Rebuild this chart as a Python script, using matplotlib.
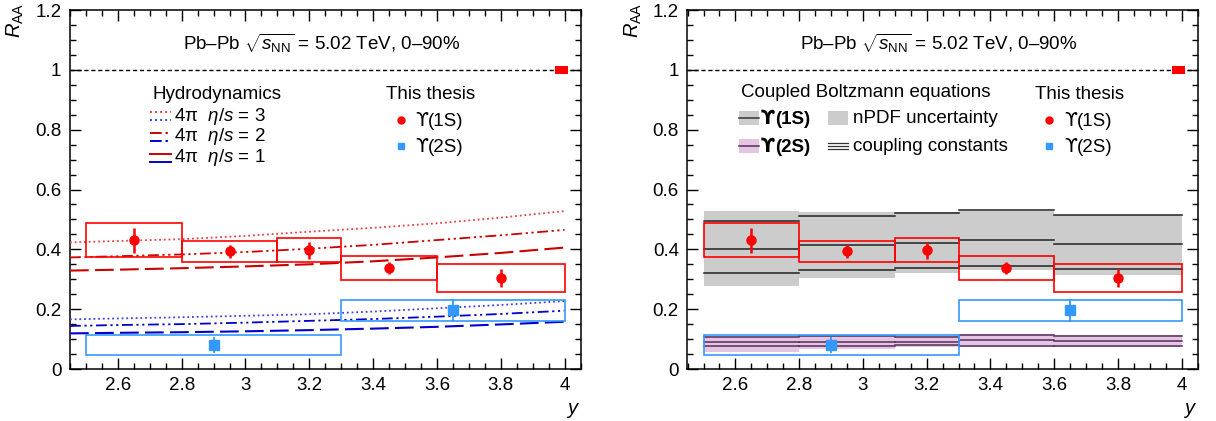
import numpy as np
import matplotlib.pyplot as plt
from matplotlib.patches import Rectangle
from matplotlib.ticker import MultipleLocator, FuncFormatter

plt.rcParams['font.family'] = ['Liberation Sans', 'DejaVu Sans']
plt.rcParams['mathtext.fontset'] = 'custom'
plt.rcParams['mathtext.rm'] = 'Liberation Sans'
plt.rcParams['mathtext.it'] = 'Liberation Sans:italic'
plt.rcParams['mathtext.bf'] = 'Liberation Sans:bold'

# measured R_AA (this thesis)
edges_1s = [2.5, 2.8, 3.1, 3.3, 3.6, 4.0]
y_1s = [2.65, 2.95, 3.2, 3.45, 3.8]
raa_1s = [0.431, 0.394, 0.397, 0.337, 0.304]
stat_1s = [0.042, 0.022, 0.029, 0.020, 0.030]
syst_1s = [0.056, 0.035, 0.040, 0.041, 0.048]

edges_2s = [2.5, 3.3, 4.0]
y_2s = [2.9, 3.65]
raa_2s = [0.080, 0.196]
stat_2s = [0.028, 0.039]
syst_2s = [0.033, 0.036]

# hydrodynamics model curves
hydro_y = [2.45, 2.6, 2.8, 3.0, 3.2, 3.4, 3.6, 3.8, 4.0]
hydro_1s_eta3 = [0.423, 0.428, 0.434, 0.445, 0.459, 0.472, 0.487, 0.506, 0.528]
hydro_1s_eta2 = [0.373, 0.377, 0.383, 0.391, 0.402, 0.415, 0.431, 0.447, 0.465]
hydro_1s_eta1 = [0.329, 0.332, 0.337, 0.343, 0.350, 0.360, 0.373, 0.388, 0.406]
hydro_2s_eta3 = [0.166, 0.169, 0.173, 0.178, 0.183, 0.192, 0.203, 0.214, 0.227]
hydro_2s_eta2 = [0.144, 0.147, 0.150, 0.155, 0.161, 0.167, 0.175, 0.184, 0.195]
hydro_2s_eta1 = [0.119, 0.121, 0.123, 0.126, 0.130, 0.135, 0.141, 0.149, 0.158]

# coupled Boltzmann equations, per bin
cbe_1s_npdf_lo = [0.278, 0.305, 0.322, 0.331, 0.314]
cbe_1s_npdf_hi = [0.528, 0.524, 0.524, 0.528, 0.515]
cbe_1s_hi = [0.496, 0.512, 0.520, 0.531, 0.515]
cbe_1s_mid = [0.402, 0.413, 0.421, 0.430, 0.417]
cbe_1s_lo = [0.322, 0.331, 0.337, 0.343, 0.333]
cbe_2s_npdf_lo = [0.058, 0.066, 0.075, 0.073, 0.075]
cbe_2s_npdf_hi = [0.111, 0.111, 0.111, 0.116, 0.114]
cbe_2s_hi = [0.106, 0.110, 0.108, 0.114, 0.112]
cbe_2s_mid = [0.091, 0.091, 0.091, 0.096, 0.095]
cbe_2s_lo = [0.078, 0.078, 0.080, 0.078, 0.078]

RED = '#ff0000'
BLUE = '#3399ff'
FS = 13.5

fig = plt.figure(figsize=(12.16, 4.21), dpi=100)
axL = fig.add_axes([0.0573, 0.1235, 0.4201, 0.8527])
axR = fig.add_axes([0.5652, 0.1235, 0.4197, 0.8527])


def style(ax):
    ax.set_xlim(2.449, 4.05)
    ax.set_ylim(0, 1.2)
    ax.xaxis.set_major_locator(MultipleLocator(0.2))
    ax.xaxis.set_minor_locator(MultipleLocator(0.05))
    ax.yaxis.set_major_locator(MultipleLocator(0.2))
    ax.yaxis.set_minor_locator(MultipleLocator(0.05))
    fmt = FuncFormatter(lambda v, p: '%g' % round(v, 2))
    ax.xaxis.set_major_formatter(fmt)
    ax.yaxis.set_major_formatter(fmt)
    ax.tick_params(which='both', direction='in', top=True, right=True,
                   labelsize=FS, width=1)
    ax.tick_params(which='major', length=8, pad=6)
    ax.tick_params(which='minor', length=4.5)
    for s in ax.spines.values():
        s.set_linewidth(1.1)
    ax.set_ylabel(r'$R_{\mathrm{AA}}$', fontsize=FS + 1, loc='top')
    ax.yaxis.set_label_coords(-0.085, 1.02)
    ax.set_xlabel(r'$y$', fontsize=FS + 1, loc='right')
    ax.xaxis.set_label_coords(1.0, -0.09)
    ax.axhline(1.0, color='black', lw=1, ls=(0, (3, 2)), zorder=1)
    ax.add_patch(Rectangle((3.97, 0.986), 0.04, 0.028, color=RED, lw=0, zorder=5))
    ax.text(0.493, 0.908, r'Pb–Pb $\sqrt{s_{\mathrm{NN}}}$ = 5.02 TeV, 0–90%',
            transform=ax.transAxes, ha='center', va='center', fontsize=FS)


def upsilon(ax, x, yc, state, bold=False):
    # curly upsilon from DejaVu, the rest in the main font
    w = 'bold' if bold else 'normal'
    yb = yc - 0.017
    t = ax.text(x, yb, 'ϒ', transform=ax.transAxes, ha='left', va='baseline',
                fontsize=FS, fontweight=w, family='DejaVu Sans')
    ax.annotate('(%s)' % state, xy=(1.0, yb), xycoords=(t, 'axes fraction'),
                ha='left', va='baseline', fontsize=FS, fontweight=w)


def draw_data(ax):
    for i in range(len(y_1s)):
        lo, hi = edges_1s[i], edges_1s[i + 1]
        ax.add_patch(Rectangle((lo, raa_1s[i] - syst_1s[i]), hi - lo, 2 * syst_1s[i],
                               fill=False, ec=RED, lw=1.2, zorder=6))
    for i in range(len(y_2s)):
        lo, hi = edges_2s[i], edges_2s[i + 1]
        ax.add_patch(Rectangle((lo, raa_2s[i] - syst_2s[i]), hi - lo, 2 * syst_2s[i],
                               fill=False, ec=BLUE, lw=1.2, zorder=6))
    ax.errorbar(y_1s, raa_1s, yerr=stat_1s, fmt='o', color=RED, ms=6.5, elinewidth=1.8,
                capsize=0, zorder=7)
    ax.errorbar(y_2s, raa_2s, yerr=stat_2s, fmt='s', color=BLUE, ms=6.5, elinewidth=1.3,
                capsize=0, zorder=7)


def thesis_legend(ax, x0, xm, xt):
    ax.text(x0, 0.765, 'This thesis', transform=ax.transAxes, ha='left', va='center', fontsize=FS)
    ax.plot([xm], [0.694], 'o', color=RED, ms=5, transform=ax.transAxes)
    ax.plot([xm], [0.621], 's', color=BLUE, ms=5, transform=ax.transAxes)
    upsilon(ax, xt, 0.694, '1S')
    upsilon(ax, xt, 0.621, '2S')


# ---------------- left panel: hydrodynamics ----------------
style(axL)
dotted = (0, (1, 1.6))
dashdot = (0, (6, 2, 1.2, 2, 1.2, 2))
dashed = (0, (9, 3))
axL.plot(hydro_y, hydro_1s_eta3, color='#e84040', ls=dotted, lw=1.3, zorder=3)
axL.plot(hydro_y, hydro_1s_eta2, color='#cc0000', ls=dashdot, lw=1.3, zorder=3)
axL.plot(hydro_y, hydro_1s_eta1, color='#cc0000', ls=dashed, lw=1.5, zorder=3)
axL.plot(hydro_y, hydro_2s_eta3, color='#4040e8', ls=dotted, lw=1.3, zorder=3)
axL.plot(hydro_y, hydro_2s_eta2, color='#0000cc', ls=dashdot, lw=1.3, zorder=3)
axL.plot(hydro_y, hydro_2s_eta1, color='#0000cc', ls=dashed, lw=1.5, zorder=3)
draw_data(axL)

axL.text(0.163, 0.765, 'Hydrodynamics', transform=axL.transAxes, ha='left', va='center', fontsize=FS)
rows = [0.704, 0.647, 0.588]
styles = [(dotted, '#e84040', '#4040e8'), (dashdot, '#cc0000', '#0000cc'), ('-', '#cc0000', '#0000cc')]
labels = ['3', '2', '1']
for ry, (ls, cr, cb), lab in zip(rows, styles, labels):
    axL.plot([0.157, 0.198], [ry + 0.011, ry + 0.011], color=cr, ls=ls, lw=1.4, transform=axL.transAxes)
    axL.plot([0.157, 0.198], [ry - 0.011, ry - 0.011], color=cb, ls=ls, lw=1.4, transform=axL.transAxes)
    axL.text(0.205, ry, '4π  $\\eta/s$ = ' + lab, transform=axL.transAxes, ha='left', va='center', fontsize=FS)
thesis_legend(axL, 0.620, 0.648, 0.676)

# ---------------- right panel: coupled Boltzmann ----------------
style(axR)
GRAY = '#cccccc'
PURPLE = '#e2c6e2'
for i in range(5):
    lo, hi = edges_1s[i], edges_1s[i + 1]
    axR.fill_between([lo, hi], cbe_1s_npdf_lo[i], cbe_1s_npdf_hi[i], color=GRAY, lw=0, zorder=2)
    for v in (cbe_1s_hi[i], cbe_1s_mid[i], cbe_1s_lo[i]):
        axR.plot([lo, hi], [v, v], color='#222222', lw=1.1, zorder=3)
    axR.fill_between([lo, hi], cbe_2s_npdf_lo[i], cbe_2s_npdf_hi[i], color=PURPLE, lw=0, zorder=2)
    for v in (cbe_2s_hi[i], cbe_2s_mid[i], cbe_2s_lo[i]):
        axR.plot([lo, hi], [v, v], color='#5a2a5a', lw=1.1, zorder=3)
draw_data(axR)

axR.text(0.105, 0.769, 'Coupled Boltzmann equations', transform=axR.transAxes,
         ha='left', va='center', fontsize=FS)
for ry, fc, lc, lab in [(0.699, GRAY, '#333333', '1S'), (0.621, PURPLE, '#5a2a5a', '2S')]:
    axR.add_patch(Rectangle((0.101, ry - 0.02), 0.039, 0.04, color=fc, lw=0, transform=axR.transAxes))
    axR.plot([0.101, 0.140], [ry, ry], color=lc, lw=1.1, transform=axR.transAxes)
    upsilon(axR, 0.1445, ry, lab, bold=True)
axR.add_patch(Rectangle((0.275, 0.679), 0.039, 0.04, color=GRAY, lw=0, transform=axR.transAxes))
axR.text(0.324, 0.699, 'nPDF uncertainty', transform=axR.transAxes, ha='left', va='center', fontsize=FS)
for dy in (-0.008, 0.0, 0.008):
    axR.plot([0.275, 0.314], [0.621 + dy] * 2, color='#333333', lw=0.9, transform=axR.transAxes)
axR.text(0.324, 0.621, 'coupling constants', transform=axR.transAxes, ha='left', va='center', fontsize=FS)
thesis_legend(axR, 0.681, 0.708, 0.738)

fig.savefig('out.png', dpi=100)
